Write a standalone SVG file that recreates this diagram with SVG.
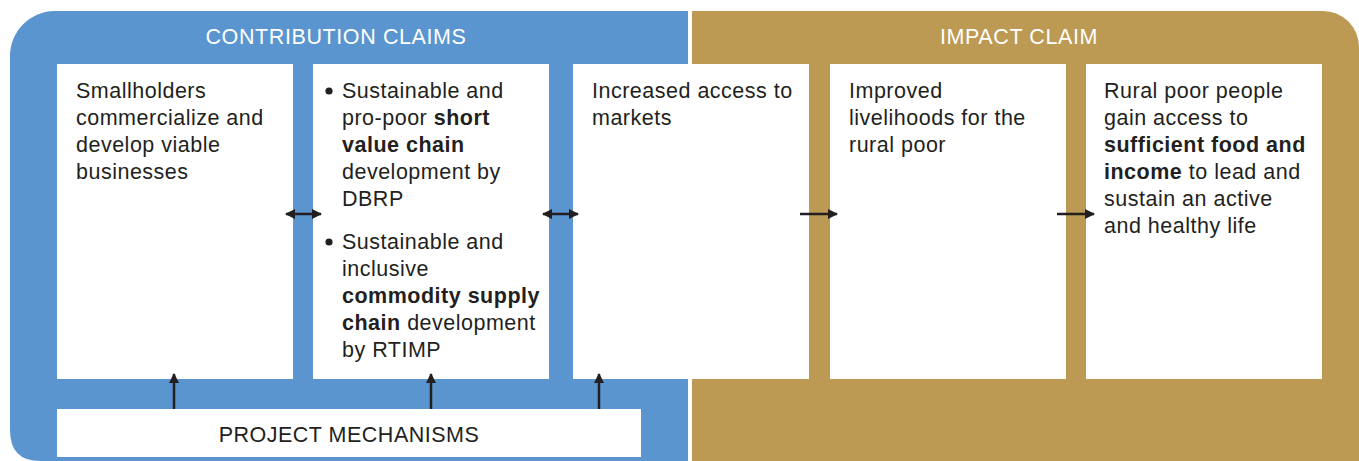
<svg xmlns="http://www.w3.org/2000/svg" width="1359" height="461" viewBox="0 0 1359 461">
<defs>
<style>
.t{font-family:"Liberation Sans",Arial,sans-serif;font-size:21.5px;letter-spacing:0.5px;fill:#231f20}
.b{font-weight:bold}
.h{font-family:"Liberation Sans",Arial,sans-serif;font-size:21.5px;letter-spacing:0.6px;fill:#ffffff}
.box{fill:#ffffff}
.c{stroke:#231f20;stroke-width:2.5;fill:none}
</style>
<marker id="ah" viewBox="0 0 10 10" refX="9" refY="5" markerWidth="4.5" markerHeight="4" orient="auto-start-reverse" markerUnits="strokeWidth">
<path d="M0,0 L10,5 L0,10 z" fill="#231f20"/>
</marker>
</defs>
<rect width="1359" height="461" fill="#ffffff"/>
<g id="contribution-panel">
<path d="M10,56 A45,45 0 0 1 55,11 L688,11 L688,461 L40,461 Q10,461 10,430 Z" fill="#5a95cf"/>
<text class="h" x="336" y="44" text-anchor="middle">CONTRIBUTION CLAIMS</text>
</g>
<g id="impact-panel">
<path d="M692,11 L1323,11 A36,36 0 0 1 1359,47 L1359,461 L692,461 Z" fill="#bd9a53"/>
<text class="h" x="1019" y="44" text-anchor="middle">IMPACT CLAIM</text>
</g>
<g id="node1">
<rect class="box" x="57" y="64" width="236" height="315"/>
<text class="t" x="76" y="98">Smallholders</text>
<text class="t" x="76" y="125">commercialize and</text>
<text class="t" x="76" y="152">develop viable</text>
<text class="t" x="76" y="179">businesses</text>
</g>
<g id="node2">
<rect class="box" x="313" y="64" width="236" height="315"/>
<circle cx="329" cy="91" r="3.6" fill="#231f20"/>
<text class="t" x="342" y="98">Sustainable and</text>
<text class="t" x="342" y="125">pro-poor <tspan class="b">short</tspan></text>
<text class="t b" x="342" y="152">value chain</text>
<text class="t" x="342" y="179">development by</text>
<text class="t" x="342" y="206">DBRP</text>
<circle cx="329" cy="242" r="3.6" fill="#231f20"/>
<text class="t" x="342" y="249">Sustainable and</text>
<text class="t" x="342" y="276">inclusive</text>
<text class="t b" x="342" y="303">commodity supply</text>
<text class="t" x="342" y="330"><tspan class="b">chain</tspan> development</text>
<text class="t" x="342" y="357">by RTIMP</text>
</g>
<g id="node3">
<rect class="box" x="573" y="64" width="236" height="315"/>
<text class="t" x="592" y="98">Increased access to</text>
<text class="t" x="592" y="125">markets</text>
</g>
<g id="node4">
<rect class="box" x="830" y="64" width="236" height="315"/>
<text class="t" x="849" y="98">Improved</text>
<text class="t" x="849" y="125">livelihoods for the</text>
<text class="t" x="849" y="152">rural poor</text>
</g>
<g id="node5">
<rect class="box" x="1086" y="64" width="236" height="315"/>
<text class="t" x="1104" y="98">Rural poor people</text>
<text class="t" x="1104" y="125">gain access to</text>
<text class="t b" x="1104" y="152">sufficient food and</text>
<text class="t" x="1104" y="179"><tspan class="b">income</tspan> to lead and</text>
<text class="t" x="1104" y="206">sustain an active</text>
<text class="t" x="1104" y="233">and healthy life</text>
</g>
<g id="project-mechanisms">
<rect class="box" x="57" y="409" width="584" height="48"/>
<text class="t" x="349" y="442" text-anchor="middle">PROJECT MECHANISMS</text>
</g>
<g id="connectors">
<line class="c" x1="286" y1="214" x2="321" y2="214" marker-start="url(#ah)" marker-end="url(#ah)"/>
<line class="c" x1="543" y1="214" x2="578" y2="214" marker-start="url(#ah)" marker-end="url(#ah)"/>
<line class="c" x1="800" y1="214" x2="837" y2="214" marker-end="url(#ah)"/>
<line class="c" x1="1057" y1="214" x2="1094" y2="214" marker-end="url(#ah)"/>
<line class="c" x1="174" y1="409" x2="174" y2="374" marker-end="url(#ah)"/>
<line class="c" x1="431" y1="409" x2="431" y2="374" marker-end="url(#ah)"/>
<line class="c" x1="599" y1="409" x2="599" y2="374" marker-end="url(#ah)"/>
</g>
</svg>
